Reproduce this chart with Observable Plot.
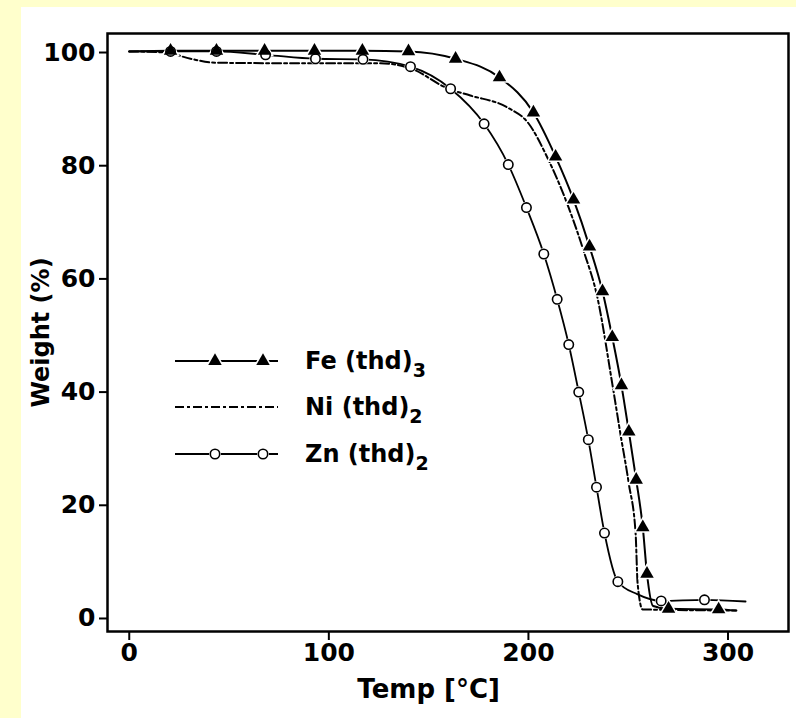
<!DOCTYPE html>
<html><head><meta charset="utf-8">
<script src="https://cdn.jsdelivr.net/npm/d3@7"></script>
<script src="https://cdn.jsdelivr.net/npm/@observablehq/plot@0.6"></script>
<style>
html,body{margin:0;padding:0;background:#ffffcc;width:796px;height:718px;overflow:hidden;}
#paper{position:absolute;left:21px;top:7px;right:0;bottom:0;background:#fff;}
#chart{position:absolute;left:0;top:0;}
#legend{position:absolute;left:0;top:0;pointer-events:none;}
</style></head><body>
<div id="paper"></div><div id="chart"></div><svg id="legend" width="796" height="718"></svg>
<script>
// ---- data ----
const xTicks = [0, 100, 200, 300];
const yTicks = [0, 20, 40, 60, 80, 100];
const xLabel = "Temp [°C]";
const yLabel = "Weight (%)";
const seriesNames = ["Fe (thd)", "Ni (thd)", "Zn (thd)"];
const seriesSubs = ["3", "2", "2"];

// Fe(thd)3 curve vertices and marker positions
const feLineT = [0, 20.7, 43.7, 67.8, 92.8, 116.8, 139.9, 163.5, 185.5, 202.5, 213.6, 222.6, 230.6, 237.1, 242.0, 246.6, 250.3, 254.0, 257.3, 259.4, 262.5, 270.2, 295.3, 303.9];
const feLineW = [100.2, 100.3, 100.3, 100.3, 100.3, 100.3, 100.2, 98.9, 95.6, 89.4, 81.6, 74.0, 65.7, 57.8, 49.7, 41.2, 33.0, 24.5, 16.1, 7.9, 2.2, 1.7, 1.6, 1.4];
const feMarkT = [20.7, 43.7, 67.8, 92.8, 116.8, 139.9, 163.5, 185.5, 202.5, 213.6, 222.6, 230.6, 237.1, 242.0, 246.6, 250.3, 254.0, 257.3, 259.4, 270.2, 295.3];
const feMarkW = [100.3, 100.3, 100.3, 100.3, 100.3, 100.2, 98.9, 95.6, 89.4, 81.6, 74.0, 65.7, 57.8, 49.7, 41.2, 33.0, 24.5, 16.1, 7.9, 1.7, 1.6];

// Ni(thd)2 curve vertices (no markers)
const niLineT = [0, 18.2, 30.7, 43.2, 85.8, 125.9, 140.9, 159.9, 170.9, 189.4, 200.0, 209.4, 219.4, 227.6, 234.5, 242.0, 246.1, 250.3, 253.7, 254.7, 257.2, 304.2];
const niLineW = [100.2, 100.0, 98.9, 98.2, 98.1, 98.1, 97.2, 93.6, 92.4, 90.3, 87.5, 81.5, 73.3, 65.0, 56.8, 41.5, 32.6, 23.8, 15.0, 6.2, 1.6, 1.4];

// Zn(thd)2 curve vertices and marker positions
const znLineT = [0, 20.7, 43.7, 68.3, 93.3, 117.1, 140.9, 161.0, 177.8, 189.9, 199.0, 207.7, 214.4, 220.2, 225.2, 230.0, 234.1, 238.1, 244.8, 254.5, 266.5, 288.2, 308.8];
const znLineW = [100.2, 100.2, 100.2, 99.6, 98.9, 98.8, 97.5, 93.6, 87.4, 80.2, 72.6, 64.4, 56.4, 48.4, 40.0, 31.6, 23.2, 15.1, 6.5, 4.3, 3.1, 3.3, 3.0];
const znMarkT = [20.7, 43.7, 68.3, 93.3, 117.1, 140.9, 161.0, 177.8, 189.9, 199.0, 207.7, 214.4, 220.2, 225.2, 230.0, 234.1, 238.1, 244.8, 266.5, 288.2];
const znMarkW = [100.2, 100.2, 99.6, 98.9, 98.8, 97.5, 93.6, 87.4, 80.2, 72.6, 64.4, 56.4, 48.4, 40.0, 31.6, 23.2, 15.1, 6.5, 3.1, 3.3];

// ---- build tables ----
const rows = (T, W) => T.map((t, i) => ({t, w: W[i]}));
const fe = rows(feLineT, feLineW), feM = rows(feMarkT, feMarkW);
const ni = rows(niLineT, niLineW);
const zn = rows(znLineT, znLineW), znM = rows(znMarkT, znMarkW);

const FONT = "DejaVu Sans, Verdana, sans-serif";
const NI_DASH = "9,3,3,3";

const chart = Plot.plot({
  width: 796, height: 718,
  marginLeft: 107, marginRight: 8, marginTop: 33, marginBottom: 87,
  x: {domain: [-10.9, 330.3]},
  y: {domain: [-2.3, 103.36]},
  style: {background: "transparent", fontFamily: FONT, fontWeight: "bold", fontSize: "25px", color: "black"},
  marks: [
    Plot.frame({stroke: "black", strokeWidth: 2.5}),
    Plot.axisY({ticks: yTicks, tickSize: 8, tickPadding: 4, tickFormat: d => d, label: null, strokeWidth: 2, fontSize: 25}),
    Plot.axisX({ticks: xTicks, tickSize: 9, tickPadding: 3, tickFormat: d => d, label: null, strokeWidth: 2, fontSize: 25}),
    Plot.text([yLabel], {text: d => d, frameAnchor: "left", textAnchor: "middle", rotate: -90, dx: -66, fontSize: 24}),
    Plot.text([xLabel], {text: d => d, x: () => d3.mean(d3.extent(xTicks)), frameAnchor: "bottom", textAnchor: "middle", dy: 66, fontSize: 26}),
    Plot.line(ni, {x: "t", y: "w", curve: "monotone-x", stroke: "black", strokeWidth: 2, strokeDasharray: NI_DASH}),
    Plot.line(fe, {x: "t", y: "w", curve: "monotone-x", stroke: "black", strokeWidth: 2}),
    Plot.line(zn, {x: "t", y: "w", curve: "monotone-x", stroke: "black", strokeWidth: 1.8}),
    Plot.dot(znM, {x: "t", y: "w", r: 6, fill: "white", stroke: "none"}),
    Plot.dot(feM, {x: "t", y: "w", symbol: "triangle", r: 5, fill: "white", stroke: "white", strokeWidth: 3}),
    Plot.dot(znM, {x: "t", y: "w", r: 4.7, fill: "white", stroke: "black", strokeWidth: 1.6}),
    Plot.dot(feM, {x: "t", y: "w", symbol: "triangle", r: 5, fill: "black", stroke: "none"})
  ]
});
document.getElementById("chart").appendChild(chart);

// ---- legend (overlay inside the plot area) ----
const lg = d3.select("#legend").style("font-family", FONT).style("font-weight", "bold");
const rowY = [361, 407, 454];
const lx0 = 175, lx1 = 278, m1 = 215, m2 = 263, tx = 305;
seriesNames.forEach((name, i) => {
  const y = rowY[i];
  const g = lg.append("g");
  if (i === 1) {
    g.append("line").attr("x1", lx0).attr("x2", lx1).attr("y1", y).attr("y2", y)
      .attr("stroke", "black").attr("stroke-width", 2).attr("stroke-dasharray", NI_DASH);
  } else {
    g.append("line").attr("x1", lx0).attr("x2", lx1).attr("y1", y).attr("y2", y)
      .attr("stroke", "black").attr("stroke-width", 2);
    [m1, m2].forEach(mx => {
      if (i === 0) {
        g.append("path").attr("transform", `translate(${mx},${y})`)
          .attr("d", d3.symbol(d3.symbolTriangle, Math.PI * 25)())
          .attr("fill", "black").attr("stroke", "white").attr("stroke-width", 3).attr("paint-order", "stroke");
      } else {
        g.append("circle").attr("cx", mx).attr("cy", y).attr("r", 6).attr("fill", "white");
        g.append("circle").attr("cx", mx).attr("cy", y).attr("r", 4.7)
          .attr("fill", "white").attr("stroke", "black").attr("stroke-width", 1.6);
      }
    });
  }
  const t = g.append("text").attr("x", tx).attr("y", y + 8).attr("font-size", 24);
  t.append("tspan").text(name);
  t.append("tspan").attr("dy", 8).attr("font-size", 19).text(seriesSubs[i]);
});
</script></body></html>
